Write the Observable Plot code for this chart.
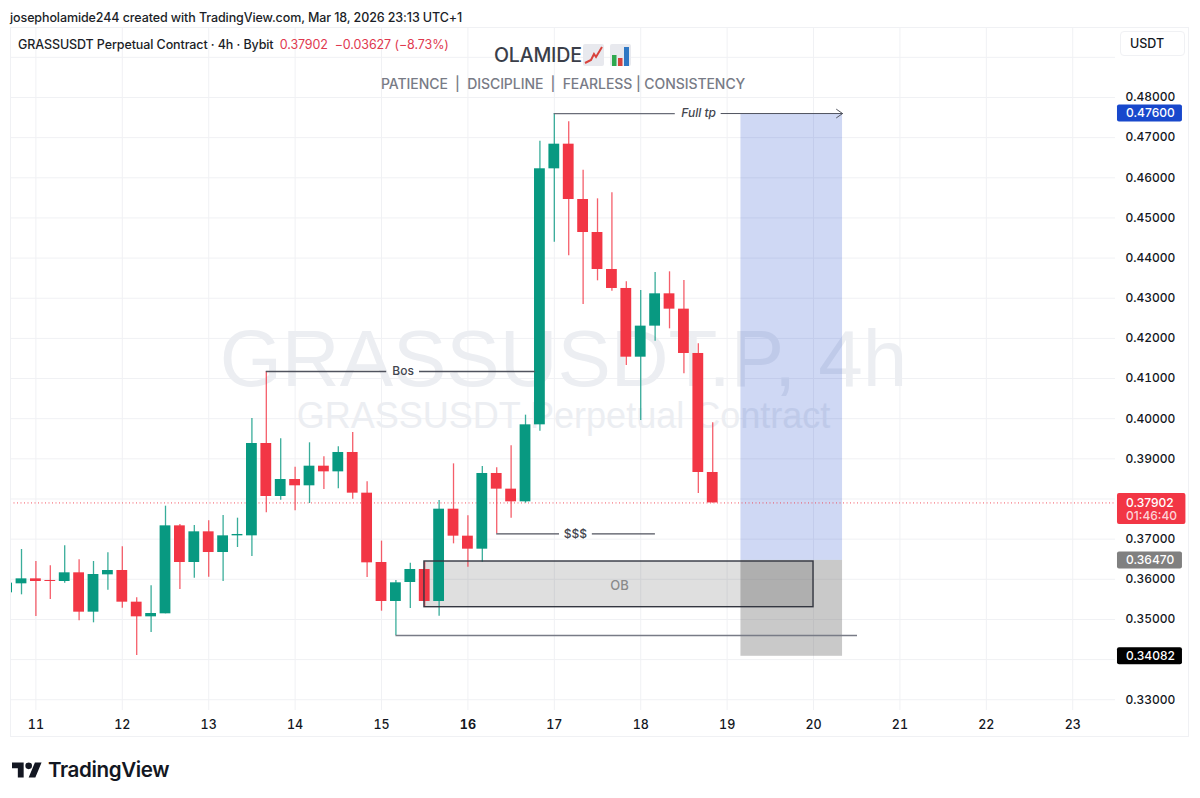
<!DOCTYPE html>
<html><head><meta charset="utf-8">
<script src="https://cdn.jsdelivr.net/npm/d3@7"></script>
<script src="https://cdn.jsdelivr.net/npm/@observablehq/plot@0.6"></script>
<style>
html,body{margin:0;padding:0;background:#fff;width:1200px;height:798px;overflow:hidden;font-family:Inter,"Noto Sans",sans-serif;color:#131722}
#wrap{position:relative;width:1200px;height:798px}
#head{height:27px;line-height:36px;padding-left:10px;font-size:12.5px;font-weight:500;color:#1b1e27;white-space:nowrap;box-sizing:border-box;letter-spacing:-.1px}
#chart svg{display:block}
#frame{position:absolute;left:10px;top:27px;width:1179px;height:710px;border:1px solid #f0f1f4;box-sizing:border-box;pointer-events:none}
.ov{position:absolute;white-space:nowrap}
#foot{position:absolute;left:12px;top:757px;display:flex;align-items:center}
</style></head><body>
<div id="wrap">
<div id="head">josepholamide244 created with TradingView.com, Mar 18, 2026 23:13 UTC+1</div>
<div id="chart"></div>
<div id="frame"></div>
<div class="ov" style="left:18px;top:37px;font-size:12.5px;font-weight:500;letter-spacing:-.1px;color:#1b1e27">GRASSUSDT Perpetual Contract · 4h · Bybit <span style="color:#e0394f;font-weight:400;margin-left:3px">0.37902&nbsp; −0.03627 (−8.73%)</span></div>
<div class="ov" style="left:494px;top:43px;font-size:19.6px;font-weight:500;color:#3a3e49;letter-spacing:-.2px">OLAMIDE</div>
<svg class="ov" style="left:583px;top:44px" width="48" height="23" viewBox="0 0 48 23">
<rect x="0" y="0" width="21" height="22" rx="2" fill="#e8e9ee"/><path d="M2 19 L8 16 L11 10 L13 13 L19 3" fill="none" stroke="#d8423c" stroke-width="2"/>
<rect x="27" y="0" width="21" height="22" rx="2" fill="#e8e9ee"/><rect x="29" y="11" width="4.5" height="11" fill="#2fa84f"/><rect x="35" y="14" width="4.5" height="8" fill="#d8423c"/><rect x="41" y="3" width="5" height="19" fill="#2f78c4"/>
</svg>
<div class="ov" style="left:381px;top:75px;font-size:14px;font-weight:500;color:#787b86;letter-spacing:-.07px">PATIENCE&nbsp; |&nbsp; DISCIPLINE&nbsp; |&nbsp; FEARLESS | CONSISTENCY</div>
<div class="ov" style="left:1120px;top:31px;width:65px;height:25px;border:1px solid #f0f1f4;border-radius:4px;box-sizing:border-box;font-size:12.5px;font-weight:500;line-height:24px;padding-left:9px;color:#131722">USDT</div>
<div id="foot"><svg width="30" height="20" viewBox="0 3 36 20"><path fill="#131722" d="M14 22H7V11H0V4h14v18zM28 22h-8l7.5-18h8L28 22z"/><circle fill="#131722" cx="20" cy="8" r="4"/></svg><span style="font-size:20.6px;font-weight:600;margin-left:6px;letter-spacing:-.4px;color:#131722">TradingView</span></div>
</div>
<script>
const bars = [-2,-1,0,1,2,3,4,5,6,7,8,9,10,11,12,13,14,15,16,17,18,19,20,21,22,23,24,25,26,27,28,29,30,31,32,33,34,35,36,37,38,39,40,41,42,43,44,45,46,47];
const opens = [.35663,.35887,.36011,.35970,.35945,.36161,.35181,.36111,.36219,.35430,.35065,.35140,.37331,.36418,.37182,.36667,.37082,.37082,.39382,.38062,.38485,.38328,.38817,.38676,.39158,.38145,.36418,.35447,.35920,.36244,.35447,.37746,.37074,.36750,.38635,.38245,.37929,.39847,.46223,.46837,.45459,.44637,.43716,.43243,.41532,.42305,.43110,.42728,.41624,.38660];
const closes = [.35904,.36011,.35945,.35945,.36161,.35181,.36119,.36219,.35430,.35065,.35148,.37331,.36418,.37182,.36667,.37082,.37116,.39382,.38062,.38485,.38328,.38817,.38676,.39158,.38145,.36410,.35447,.35912,.36244,.35447,.37746,.37074,.36750,.38635,.38245,.37929,.39847,.46224,.46837,.45459,.44637,.43716,.43243,.41532,.42305,.43110,.42728,.41624,.38660,.37902];
const highs = [.35920,.36742,.36443,.36335,.36833,.36485,.36443,.36659,.36808,.35538,.35837,.37821,.37365,.37340,.37456,.37589,.37522,.40005,.41175,.39498,.38793,.39399,.39050,.39299,.39656,.38427,.36950,.35970,.36401,.36426,.37962,.38875,.37580,.38809,.38776,.39324,.40088,.46912,.47600,.47394,.46190,.45476,.45625,.43409,.43193,.43641,.43658,.43442,.41864,.39897];
const lows = [.35620,.35613,.35073,.35497,.35904,.34965,.34916,.35729,.35281,.34102,.34675,.35140,.35746,.36028,.36053,.35945,.36792,.36568,.37655,.37971,.37705,.37888,.38236,.38253,.37996,.36045,.35206,.34600,.35272,.35306,.35082,.36883,.36302,.36426,.37132,.37522,.37896,.39689,.44397,.44056,.42844,.43434,.43176,.41325,.39955,.41931,.42238,.41117,.38137,.37902];

const dayTicks = [11,12,13,14,15,17,18,19,20,21,22,23];
const boldDay = [16];
const priceTicks = [.33,.35,.36,.37,.39,.40,.41,.42,.43,.44,.45,.46,.47,.48];
const priceGrid = [.33,.34,.35,.36,.37,.38,.39,.40,.41,.42,.43,.44,.45,.46,.47,.48,.49];

const lastPrice = .37902, target = .476, entry = .3647, stop = .34082;
const obTop = .36443, obBottom = .35305, obLeft = 15.497, obRight = 20;
const zoneLeft = 19.16, zoneRight = 20.336;

const candles = bars.map((b,i)=>({t:11+b/6,o:opens[i],h:highs[i],l:lows[i],c:closes[i],up:closes[i]>=opens[i]}));
const GREEN="#089981", RED="#f23645";
const hw = 5.4/86.4;

const segments = [
  {x1:13.667,x2:15.06,y:.41175,s:"#50535e"},{x1:15.44,x2:16.78,y:.41175,s:"#50535e"},
  {x1:16.333,x2:17.06,y:.37132,s:"#50535e"},{x1:17.44,x2:18.17,y:.37132,s:"#50535e"},
  {x1:17,x2:18.40,y:.476,s:"#6a6d78"},
  {x1:15.167,x2:20.509,y:.346,s:"#787b86"}
];
const plainLabels = [
  {t:"Bos",x:15.25,y:.41175},
  {t:"$$$",x:17.245,y:.37132}
];
const italicLabels = [{t:"Full tp",x:18.67,y:.476}];
const tags = [
  {p:target,a:target+.00212,b:target-.00212,f:"#1848cc",r:24.27},
  {p:entry,a:entry+.00212,b:entry-.00212,f:"#808080",r:24.27},
  {p:stop,a:stop+.00212,b:stop-.00212,f:"#000000",r:24.27},
  {p:lastPrice,a:.38137,b:.37365,f:"#f23645",r:24.31}
];
const WM="#eceef2";

const chart = Plot.plot({
  width:1200, height:710, marginLeft:10, marginRight:85, marginTop:0, marginBottom:27,
  style:{background:"transparent",fontFamily:"Inter, 'Noto Sans', sans-serif",overflow:"visible"},
  x:{type:"linear",domain:[10.706,23.495],axis:null},
  y:{type:"linear",domain:[.32732,.49743],axis:null},
  marks:[
    Plot.gridX([...dayTicks,...boldDay],{stroke:"#f0f1f4",strokeOpacity:1}),
    Plot.gridY(priceGrid,{stroke:"#f0f1f4",strokeOpacity:1}),
    Plot.text(["GRASSUSDT.P, 4h"],{x:()=>17.106,y:()=>.4145,text:d=>d,fontSize:80,fill:WM,fontFamily:"Liberation Sans"}),
    Plot.text(["GRASSUSDT Perpetual Contract"],{x:()=>17.106,y:()=>.40055,text:d=>d,fontSize:36,fill:WM,fontFamily:"Liberation Sans"}),
    Plot.rect([0],{x1:()=>zoneLeft,x2:()=>zoneRight,y1:()=>entry,y2:()=>target,fill:"rgb(15,60,200)",fillOpacity:.2}),
    Plot.rect([0],{x1:()=>zoneLeft,x2:()=>zoneRight,y1:()=>stop,y2:()=>entry,fill:"rgb(120,120,120)",fillOpacity:.4}),
    Plot.rect([0],{x1:()=>obLeft,x2:()=>obRight,y1:()=>obBottom,y2:()=>obTop,fill:"#000",fillOpacity:.125}),
    Plot.ruleY([lastPrice],{stroke:RED,strokeWidth:1,strokeDasharray:"1,2.5",strokeOpacity:.85,clip:true}),
    Plot.ruleX(candles,{x:"t",y1:"l",y2:"h",stroke:d=>d.up?GREEN:RED,strokeWidth:1.3,strokeOpacity:.8,clip:true}),
    Plot.rect(candles,{x1:d=>d.t-hw,x2:d=>d.t+hw,y1:d=>Math.min(d.o,d.c),y2:d=>Math.max(d.o,d.c),fill:d=>d.up?GREEN:RED,clip:true}),
    Plot.rect([0],{x1:()=>obLeft,x2:()=>obRight,y1:()=>obBottom,y2:()=>obTop,fill:"none",stroke:"#333640",strokeWidth:1.4}),
    Plot.ruleY(segments,{x1:"x1",x2:"x2",y:"y",stroke:"s",strokeWidth:1.3}),
    Plot.arrow([0],{x1:()=>18.93,x2:()=>20.336,y1:()=>.476,y2:()=>.476,stroke:"#50535e",strokeWidth:1,headLength:11,headAngle:70,bend:0}),
    Plot.text(plainLabels,{x:"x",y:"y",text:"t",fontSize:12,fontWeight:500,fill:"#43464f"}),
    Plot.text(italicLabels,{x:"x",y:"y",text:"t",fontSize:12,fontWeight:500,fontStyle:"italic",fill:"#43464f"}),
    Plot.text(["OB"],{x:()=>17.754,y:()=>.35846,text:d=>d,fontSize:13,fontWeight:500,fill:"#8a8a8a"}),
    Plot.axisX(dayTicks,{anchor:"bottom",tickSize:0,tickPadding:10,fontSize:12.5,fontWeight:500,fill:"#131722",label:null,tickFormat:d=>d}),
    Plot.axisX(boldDay,{anchor:"bottom",tickSize:0,tickPadding:10,fontSize:12.5,fontWeight:700,fill:"#131722",label:null,tickFormat:d=>d}),
    Plot.axisY(priceTicks,{anchor:"right",tickSize:0,tickPadding:10,fontSize:12,fontWeight:500,fill:"#131722",label:null,tickFormat:d=>d.toFixed(5)}),
    Plot.rect(tags,{x1:()=>23.518,x2:"r",y1:"b",y2:"a",fill:"f",rx:2}),
    Plot.text(tags,{x:()=>23.617,y:"p",text:d=>d.p.toFixed(5),textAnchor:"start",fontSize:12,fontWeight:500,fill:"#fff"}),
    Plot.text(["01:46:40"],{x:()=>23.617,y:()=>.37564,text:d=>d,textAnchor:"start",fontSize:12,fontWeight:500,fill:"#fff",fillOpacity:.8})
  ]
});
document.getElementById("chart").appendChild(chart);
</script>
</body></html>
